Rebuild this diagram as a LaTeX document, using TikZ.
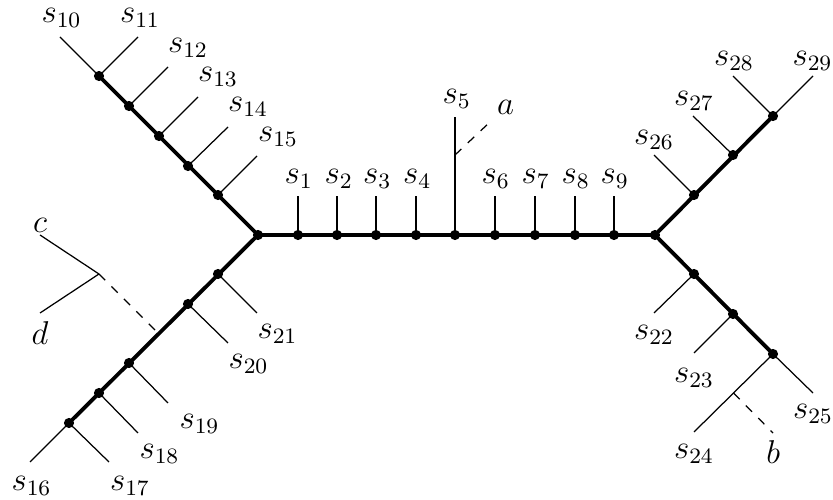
\documentclass[tikz,border=0pt,12pt]{standalone}
\begin{document}
\begin{tikzpicture}[x=0.3636pt,y=-0.3636pt,
  dot/.style={circle,fill=black,inner sep=0pt,minimum size=3.7pt},
  br/.style={line width=1.4pt},
  lf/.style={line width=0.45pt},
  dsh/.style={line width=0.45pt,dash pattern=on 3.2pt off 3.2pt},
  lab/.style={inner sep=0pt,anchor=base west},
  letter/.style={inner sep=0pt,anchor=base}]
\useasboundingbox (0,0) rectangle (833,500);
% hubs and main line dots
\coordinate (h) at (258,235);
\coordinate (hr) at (655,235);
\foreach \i/\x in {1/298,2/337,3/376,4/416,5/455,6/495,7/535,8/575,9/614}{
  \coordinate (m\i) at (\x,235);
}
% upper-left
\coordinate (u1) at (218,195);
\coordinate (u2) at (188,166);
\coordinate (u3) at (159,136);
\coordinate (u4) at (129,106);
\coordinate (u5) at (99,76);
% lower-left
\coordinate (l1) at (218,274);
\coordinate (l2) at (188,304);
\coordinate (lj) at (158.5,333.5);
\coordinate (l3) at (129,363);
\coordinate (l4) at (99,393);
\coordinate (l5) at (69,423);
% right upper
\coordinate (r1) at (694,195);
\coordinate (r2) at (733,155);
\coordinate (r3) at (773,116);
% right lower
\coordinate (q1) at (694,274);
\coordinate (q2) at (733,314);
\coordinate (q3) at (773,354);
% c/d junction
\coordinate (j) at (99,274);

% leaf ends
\foreach \i/\x in {1/298,2/337,3/376,4/416,6/495,7/535,8/575,9/614}{
  \coordinate (e\i) at (\x,196);
}
\coordinate (e5) at (455,117);
\coordinate (e5a) at (455,155);
\coordinate (ea) at (490,122);
\coordinate (e10) at (60,37);
\coordinate (e11) at (138,37);
\coordinate (e12) at (168,67);
\coordinate (e13) at (198,97);
\coordinate (e14) at (228,127);
\coordinate (e15) at (257,156);
\coordinate (e21) at (257,313);
\coordinate (e20) at (228,343);
\coordinate (e19) at (168,403);
\coordinate (e18) at (138,433);
\coordinate (e17) at (109,462);
\coordinate (e16) at (30,462);
\coordinate (ec) at (40,235);
\coordinate (ed) at (40,313);
\coordinate (e26) at (654,155);
\coordinate (e27) at (693,116);
\coordinate (e28) at (733,76);
\coordinate (e29) at (813,76);
\coordinate (e22) at (654,313);
\coordinate (e23) at (694,353);
\coordinate (e25) at (813,393);
\coordinate (e24) at (694,432);
\coordinate (e24b) at (733.5,393);
\coordinate (eb) at (773,433);

% leaves
\foreach \i in {1,...,9}{\draw[lf] (m\i) -- (e\i);}
\draw[dsh] (e5a) -- (ea);
\draw[lf] (u5) -- (e10);
\draw[lf] (u5) -- (e11);
\draw[lf] (u4) -- (e12);
\draw[lf] (u3) -- (e13);
\draw[lf] (u2) -- (e14);
\draw[lf] (u1) -- (e15);
\draw[lf] (l1) -- (e21);
\draw[lf] (l2) -- (e20);
\draw[lf] (l3) -- (e19);
\draw[lf] (l4) -- (e18);
\draw[lf] (l5) -- (e17);
\draw[lf] (l5) -- (e16);
\draw[lf] (j) -- (ec);
\draw[lf] (j) -- (ed);
\draw[dsh] (j) -- (lj);
\draw[lf] (r1) -- (e26);
\draw[lf] (r2) -- (e27);
\draw[lf] (r3) -- (e28);
\draw[lf] (r3) -- (e29);
\draw[lf] (q1) -- (e22);
\draw[lf] (q2) -- (e23);
\draw[lf] (q3) -- (e25);
\draw[lf] (q3) -- (e24);
\draw[dsh] (e24b) -- (eb);

% thick branches
\draw[br] (h) -- (hr);
\draw[br] (h) -- (u5);
\draw[br] (h) -- (l5);
\draw[br] (hr) -- (r3);
\draw[br] (hr) -- (q3);

% dots
\foreach \p in {h,hr,m1,m2,m3,m4,m5,m6,m7,m8,m9,u1,u2,u3,u4,u5,l1,l2,l3,l4,l5,r1,r2,r3,q1,q2,q3}{
  \node[dot] (d\p) at (\p) {};
}

% labels
\node[lab] (s1) at (284,184) {$s_{1}$};
\node[lab] (s2) at (324,184) {$s_{2}$};
\node[lab] (s3) at (362.5,184) {$s_{3}$};
\node[lab] (s4) at (402.5,184) {$s_{4}$};
\node[lab] (s5) at (442,103.5) {$s_{5}$};
\node[lab] (s6) at (481,184) {$s_{6}$};
\node[lab] (s7) at (521,184) {$s_{7}$};
\node[lab] (s8) at (561,184) {$s_{8}$};
\node[lab] (s9) at (600,184) {$s_{9}$};
\node[letter] (la) at (505.5,115) {$a$};
\node[lab] (s10) at (41,22.5) {$s_{10}$};
\node[lab] (s11) at (119.5,22.5) {$s_{11}$};
\node[lab] (s12) at (167.5,52.7) {$s_{12}$};
\node[lab] (s13) at (197.5,82) {$s_{13}$};
\node[lab] (s14) at (227.5,111.7) {$s_{14}$};
\node[lab] (s15) at (257.5,141.7) {$s_{15}$};
\node[lab] (s21) at (257,338.3) {$s_{21}$};
\node[lab] (s20) at (228,368.3) {$s_{20}$};
\node[lab] (s19) at (179,428.3) {$s_{19}$};
\node[lab] (s18) at (139,459) {$s_{18}$};
\node[lab] (s17) at (109.5,491) {$s_{17}$};
\node[lab] (s16) at (11,491) {$s_{16}$};
\node[letter] (lc) at (40,233) {$c$};
\node[letter] (ld) at (40,345) {$d$};
\node[lab] (s26) at (633.5,145) {$s_{26}$};
\node[lab] (s27) at (673.5,106) {$s_{27}$};
\node[lab] (s28) at (713.5,66) {$s_{28}$};
\node[lab] (s29) at (792,66) {$s_{29}$};
\node[lab] (s22) at (633.5,340) {$s_{22}$};
\node[lab] (s23) at (673.5,382.5) {$s_{23}$};
\node[lab] (s25) at (792.5,419) {$s_{25}$};
\node[lab] (s24) at (673.5,459) {$s_{24}$};
\node[letter] (lb) at (773.3,463.7) {$b$};
\end{tikzpicture}
\end{document}
